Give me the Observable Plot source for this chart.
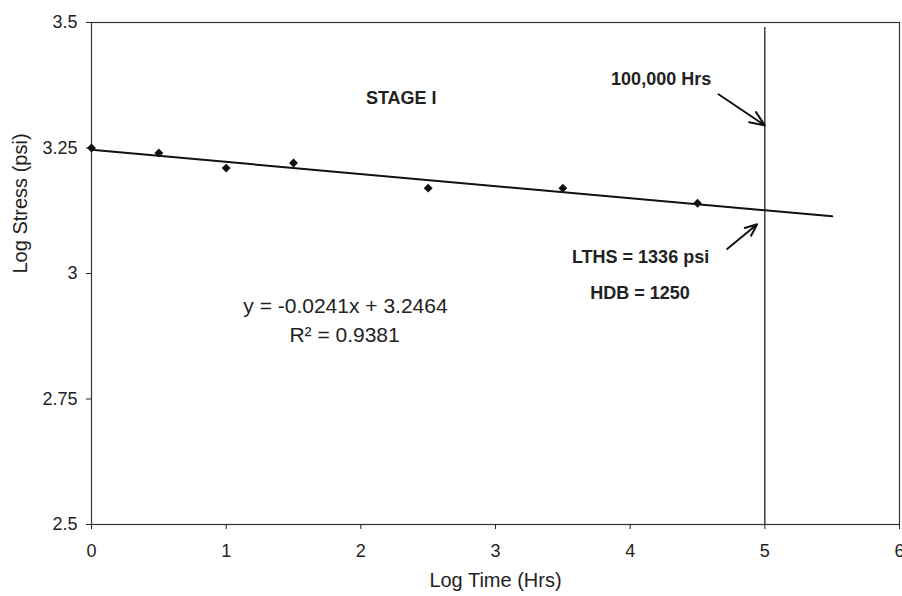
<!DOCTYPE html>
<html>
<head>
<meta charset="utf-8">
<script src="https://cdn.jsdelivr.net/npm/d3@7"></script>
<script src="https://cdn.jsdelivr.net/npm/@observablehq/plot@0.6"></script>
<style>
  html, body { margin: 0; padding: 0; background: #fff; }
  svg { display: block; }
</style>
</head>
<body>
<div id="chart"></div>
<script>
// Observed data
const logTime = [0, 0.5, 1, 1.5, 2.5, 3.5, 4.5];
const logStress = [3.25, 3.24, 3.21, 3.22, 3.17, 3.17, 3.14];

// Regression line y = -0.0241x + 3.2464, drawn from x = 0 to 5.5
const slope = -0.0241;
const intercept = 3.2464;
const fitRange = [0, 5.5];

// Axes
const xTicks = [0, 1, 2, 3, 4, 5, 6];
const yTicks = [2.5, 2.75, 3, 3.25, 3.5];
const xTitle = "Log Time (Hrs)";
const yTitle = "Log Stress (psi)";

// 100,000 Hrs marker (log time = 5)
const markerX = 5;
const markerTop = 3.49;

// Annotations
const labels = [
  {x: 2.30, y: 3.349, text: "STAGE I", bold: true},
  {x: 4.23, y: 3.386, text: "100,000 Hrs", bold: true},
  {x: 4.077, y: 3.033, text: "LTHS = 1336 psi", bold: true},
  {x: 4.073, y: 2.961, text: "HDB = 1250", bold: true},
  {x: 1.886, y: 2.934, text: "y = -0.0241x + 3.2464", bold: false},
  {x: 1.879, y: 2.876, text: "R² = 0.9381", bold: false}
];
const arrows = [
  {x1: 4.656, y1: 3.357, x2: 5.0, y2: 3.295},
  {x1: 4.72, y1: 3.049, x2: 4.943, y2: 3.098}
];

const points = logTime.map((t, i) => ({t, s: logStress[i]}));
const fit = fitRange.map(t => ({t, s: slope * t + intercept}));
const fmt = d => String(d);

const chart = Plot.plot({
  width: 902,
  height: 596,
  marginLeft: 91,
  marginRight: 3,
  marginTop: 22,
  marginBottom: 72,
  style: {fontFamily: "Liberation Sans, Arial, sans-serif", fontSize: "18px", color: "#222", background: "#fff"},
  x: {domain: [0, 6], ticks: xTicks},
  y: {domain: [2.5, 3.5], ticks: yTicks},
  marks: [
    Plot.frame({stroke: "#333", strokeWidth: 1.2}),
    Plot.axisX({ticks: xTicks, tickFormat: fmt, tickSize: 5, tickPadding: 15, fontSize: 18, label: null}),
    Plot.axisY({ticks: yTicks, tickFormat: fmt, tickSize: 5, tickPadding: 9, fontSize: 18, label: null}),
    Plot.text([xTitle], {frameAnchor: "bottom", dy: 62, fontSize: 20, fill: "#222"}),
    Plot.text([yTitle], {frameAnchor: "left", dx: -71, rotate: -90, fontSize: 20, fill: "#222"}),
    Plot.ruleX([markerX], {y1: 2.5, y2: markerTop, stroke: "#222", strokeWidth: 1.3}),
    Plot.line(fit, {x: "t", y: "s", stroke: "#111", strokeWidth: 2}),
    Plot.dot(points, {x: "t", y: "s", symbol: "diamond2", r: 4, fill: "#111", stroke: "none"}),
    Plot.arrow(arrows, {x1: "x1", y1: "y1", x2: "x2", y2: "y2", stroke: "#111", strokeWidth: 2, headLength: 12, headAngle: 45}),
    Plot.text(labels.filter(d => d.bold), {x: "x", y: "y", text: "text", fontWeight: "bold", fontSize: 18, fill: "#222"}),
    Plot.text(labels.filter(d => !d.bold), {x: "x", y: "y", text: "text", fontSize: 21, fill: "#222"})
  ]
});
document.getElementById("chart").append(chart);
</script>
</body>
</html>
